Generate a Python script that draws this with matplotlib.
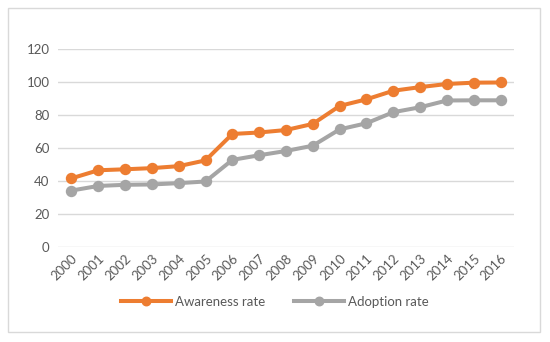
import matplotlib
matplotlib.use("Agg")
import matplotlib.pyplot as plt
from matplotlib.patches import Rectangle

years = [str(y) for y in range(2000, 2017)]
awareness = [41.6, 46.5, 47.1, 47.8, 49.0, 52.5, 68.5, 69.4, 70.9, 74.6, 85.5, 89.5, 94.7, 96.9, 98.8, 99.6, 99.7]
adoption = [34.2, 37.0, 37.7, 37.9, 38.7, 39.7, 52.8, 55.6, 58.2, 61.4, 71.3, 75.0, 81.7, 84.7, 88.8, 88.9, 88.9]
yticks = [0, 20, 40, 60, 80, 100, 120]

plt.rcParams['font.family'] = ['Lato', 'DejaVu Sans']
txt = '#595959'
W, H = 550, 342
fig = plt.figure(figsize=(W/100, H/100), dpi=100)
fig.patches.append(Rectangle((8/W, 1-332/H), 532/W, 324/H, transform=fig.transFigure,
                             fill=False, edgecolor='#D9D9D9', linewidth=1))
ax = fig.add_axes([58/W, 1-247/H, 456/W, 198/H])
x = list(range(len(years)))
ax.plot(x, awareness, color='#ED7D31', lw=2.9, marker='o', ms=7.2, label='Awareness rate', zorder=3)
ax.plot(x, adoption, color='#A5A5A5', lw=2.9, marker='o', ms=7.2, label='Adoption rate', zorder=3)
ax.set_xlim(-0.5, len(years)-0.5)
ax.set_ylim(0, 120)
ax.set_yticks(yticks)
ax.set_yticklabels([str(v) for v in yticks], color=txt, fontsize=9.5)
ax.set_xticks(x)
ax.set_xticklabels(years, rotation=45, ha='right', va='top', rotation_mode='anchor', color=txt, fontsize=9.5)
ax.tick_params(length=0, pad=6)
ax.tick_params(axis='x', pad=4)
ax.grid(axis='y', color='#D9D9D9', lw=1)
ax.set_axisbelow(True)
for s in ax.spines.values():
    s.set_visible(False)
leg = fig.legend(loc='center', bbox_to_anchor=(0.5, 1-302/H), ncol=2, frameon=False,
                 fontsize=9.5, labelcolor=txt, handlelength=3.8, columnspacing=2.2,
                 handletextpad=0.3, markerscale=0.85)
fig.savefig('out.png', dpi=100, facecolor='white')
